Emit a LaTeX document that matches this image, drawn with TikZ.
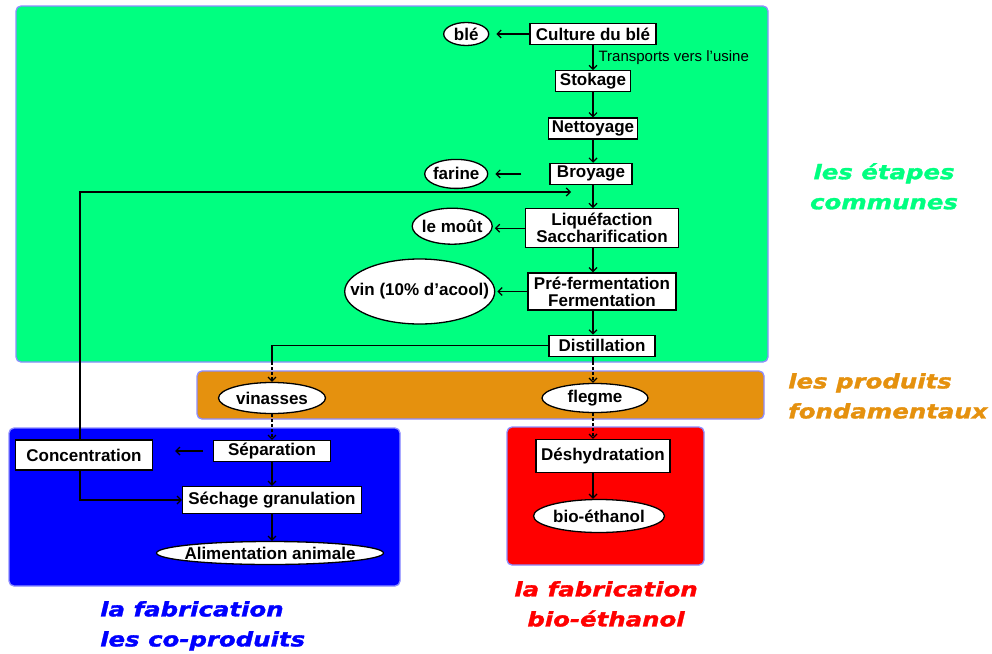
\documentclass[tikz,border=0pt]{standalone}
\usepackage{fontspec}
\setmainfont{Liberation Sans}
\newfontfamily\titrefont{DejaVu Sans}[FakeStretch=1.22, FakeBold=1.5]
\usetikzlibrary{positioning,shapes.geometric,arrows.meta}

\definecolor{vertetape}{RGB}{0,255,128}
\definecolor{orangeprod}{RGB}{229,145,14}
\definecolor{bleucoprod}{RGB}{0,0,255}
\definecolor{rougebio}{RGB}{255,0,0}
\definecolor{bordzone}{RGB}{140,140,255}

\newcommand\etiq[1]{\makebox[0pt]{#1}}

\tikzset{
	etape/.style={draw, fill=white, line width=1.3pt, inner sep=2pt, minimum height=21pt, align=center, font=\fontsize{17}{17}\selectfont\bfseries},
	produit/.style={ellipse, draw, fill=white, line width=1.3pt, inner sep=0pt, font=\fontsize{17}{17}\selectfont\bfseries},
	zone/.style={draw=bordzone, line width=1.3pt, rounded corners=5pt},
	titre/.style={font=\fontsize{20}{30}\selectfont\titrefont\bfseries\itshape, inner sep=0pt},
	fleche/.style={-{Straight Barb[length=4pt,width=8pt]}, line width=1.2pt},
	trait/.style={line width=1.2pt},
	pointille/.style={fleche, dash pattern=on 3pt off 2pt},
}

\begin{document}
\begin{tikzpicture}[x=1pt, y=-1pt, node distance=25pt]
	\useasboundingbox (0,0) rectangle (992,653);
	
	% les zones
	\draw[zone, fill=vertetape] (16,6) rectangle (768,362);
	\draw[zone, fill=orangeprod] (197,371) rectangle (764,419);
	\draw[zone, fill=bleucoprod] (9,428) rectangle (400,586);
	\draw[zone, fill=rougebio] (507,427) rectangle (704,565);
	
	% les etapes communes
	\node[etape, minimum width=126pt] (culture) at (593,34) {Culture du blé};
	\node[etape, minimum width=75pt, below=of culture] (stokage) {Stokage};
	\node[etape, minimum width=89pt, below=of stokage] (nettoyage) {Nettoyage};
	\node[etape, minimum width=82pt, below=23pt of nettoyage, xshift=-2pt] (broyage) {Broyage};
	\node[etape, minimum width=153pt, minimum height=39pt, below=23pt of broyage, xshift=11pt] (liquefaction) {Liquéfaction\\Saccharification};
	\node[etape, minimum width=148pt, minimum height=37pt, below=24pt of liquefaction] (fermentation) {Pré-fermentation\\Fermentation};
	\node[etape, minimum width=106pt, below=24pt of fermentation] (distillation) {Distillation};
	
	\node[produit, minimum width=45pt, minimum height=23pt, left=40pt of culture] (ble) {\etiq{blé}};
	\node[produit, minimum width=63pt, minimum height=29pt, left=61pt of broyage] (farine) {\etiq{farine}};
	\node[produit, minimum width=80pt, minimum height=36pt, left=32pt of liquefaction, yshift=2pt] (mout) {\etiq{le moût}};
	\node[produit, minimum width=150pt, minimum height=65pt, left=32pt of fermentation] (vin) {\etiq{vin (10\% d'acool)}};
	
	% les produits fondamentaux
	\node[produit, minimum width=107pt, minimum height=31pt] (vinasses) at (272,398) {\etiq{vinasses}};
	\node[produit, minimum width=106pt, minimum height=29pt] (flegme) at (595,398) {\etiq{flegme}};
	
	% les co-produits
	\node[etape, minimum width=117pt] (separation) at (272,451) {Séparation};
	\node[etape, minimum width=137pt, minimum height=30pt] (concentration) at (84,455) {Concentration};
	\node[etape, minimum width=179pt, minimum height=27pt] (sechage) at (272,500) {Séchage granulation};
	\node[produit, minimum width=227pt, minimum height=23pt] (alimentation) at (270,553) {\etiq{Alimentation animale}};
	
	% le bio-ethanol
	\node[etape, minimum width=134pt, minimum height=33pt] (deshydratation) at (603,456) {Déshydratation};
	\node[produit, minimum width=131pt, minimum height=33pt] (bioethanol) at (599,516) {\etiq{bio-éthanol}};
	
	\coordinate (spine) at (593,0);
	\coordinate (bordvert) at (0,362);
	\coordinate (retour) at (571,192);
	
	\draw[fleche] (culture.south -| spine) -- node[right, xshift=5pt, inner sep=0pt, font=\fontsize{15}{15}\selectfont] {Transports vers l'usine} (stokage.north -| spine);
	\draw[fleche] (stokage.south -| spine) -- (nettoyage.north -| spine);
	\draw[fleche] (nettoyage.south -| spine) -- (broyage.north -| spine);
	\draw[fleche] (broyage.south -| spine) -- (liquefaction.north -| spine);
	\draw[fleche] (liquefaction.south -| spine) -- (fermentation.north -| spine);
	\draw[fleche] (fermentation.south -| spine) -- (distillation.north -| spine);
	
	\draw[fleche, shorten >=7pt] (culture) -- (ble);
	\draw[fleche, shorten <=28pt, shorten >=7pt] (broyage) -- (farine);
	\draw[fleche, shorten >=2pt] (liquefaction.west) -- (liquefaction.west -| mout.east);
	\draw[fleche, shorten >=2pt] (fermentation) -- (vin);
	
	\draw[trait] (distillation.south -| spine) -- (bordvert -| spine);
	\draw[pointille] (bordvert -| spine) -- (flegme.north -| spine);
	\draw[trait] (distillation.west) -| (bordvert -| vinasses);
	\draw[pointille] (bordvert -| vinasses) -- (vinasses.north);
	
	\draw[pointille] (vinasses.south) -- (separation.north);
	\draw[fleche] (separation) -- (sechage);
	\draw[fleche] (sechage.south) -- (sechage.south |- alimentation.north);
	\draw[fleche, shorten <=10pt, shorten >=22pt] (separation.west) -- (separation.west -| concentration.east);
	\draw[fleche] ([xshift=-4pt]concentration.north) |- (retour);
	\draw[fleche] ([xshift=-4pt]concentration.south) |- (sechage.west);
	
	\draw[pointille] (flegme.south -| spine) -- (deshydratation.north -| spine);
	\draw[fleche] (deshydratation.south -| spine) -- (bioethanol.north -| spine);
	
	% les titres
	\node[titre, text=vertetape, align=center, anchor=north] (titreetapes) at (884,163) {les étapes\\communes};
	\node[titre, text=orangeprod, align=left, anchor=north west] (titreproduits) at (788,373) {les produits\\fondamentaux};
	\node[titre, text=bleucoprod, align=left, anchor=north west] (titrecoproduits) at (100,601) {la fabrication\\les co-produits};
	\node[titre, text=rougebio, align=center, anchor=north] (titrebio) at (606,581) {la fabrication\\bio-éthanol};
\end{tikzpicture}
\end{document}
